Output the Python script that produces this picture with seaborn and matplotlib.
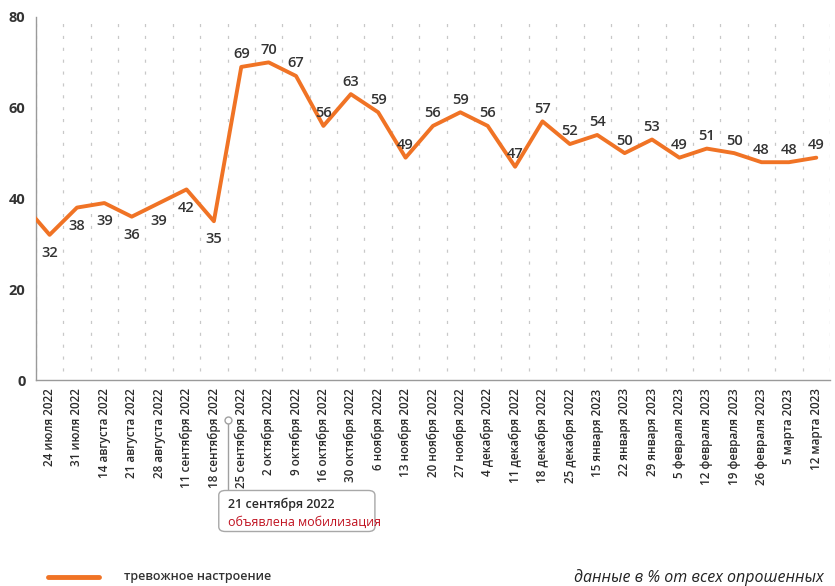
import numpy as np
import pandas as pd
import matplotlib
matplotlib.use('Agg')
import matplotlib.pyplot as plt
import matplotlib.transforms as mtransforms
from matplotlib.patches import FancyBboxPatch
import seaborn as sns

dates = ['24 июля 2022', '31 июля 2022', '14 августа 2022', '21 августа 2022', '28 августа 2022',
         '11 сентября 2022', '18 сентября 2022', '25 сентября 2022', '2 октября 2022', '9 октября 2022',
         '16 октября 2022', '30 октября 2022', '6 ноября 2022', '13 ноября 2022', '20 ноября 2022',
         '27 ноября 2022', '4 декабря 2022', '11 декабря 2022', '18 декабря 2022', '25 декабря 2022',
         '15 января 2023', '22 января 2023', '29 января 2023', '5 февраля 2023', '12 февраля 2023',
         '19 февраля 2023', '26 февраля 2023', '5 марта 2023', '12 марта 2023']
values = [32, 38, 39, 36, 39, 42, 35, 69, 70, 67, 56, 63, 59, 49, 56, 59, 56, 47, 57, 52,
          54, 50, 53, 49, 51, 50, 48, 48, 49]
# previous (off-chart) week, only the tail of the line is visible
lead_value = 39
mobilization_after = '18 сентября 2022'

orange = '#F07325'

df = pd.DataFrame({'pos': np.arange(-1, len(dates)), 'value': [lead_value] + values})

sns.set_style('white')
plt.rcParams['font.family'] = ['Open Sans', 'DejaVu Sans']

fig = plt.figure(figsize=(8.35, 5.86), dpi=100)
ax = fig.add_axes([0.043, 0.3515, 0.951, 0.6195])

# dashed vertical grid between categories
for b in np.arange(-0.5, len(dates), 1.0):
    ax.plot([b, b], [2, 80], color='#c8c8c8', lw=0.9, ls=(0, (2.5, 7)), zorder=0)

sns.lineplot(data=df, x='pos', y='value', color=orange, lw=2.8, ax=ax, zorder=3)

mob_idx = dates.index(mobilization_after)
for i, v in enumerate(values):
    if i <= mob_idx:
        ax.annotate(str(v), (i, v), xytext=(0, -8), textcoords='offset points',
                    ha='center', va='top', fontsize=10.5, fontweight='semibold', color='#333333')
    else:
        ax.annotate(str(v), (i, v), xytext=(0, 4), textcoords='offset points',
                    ha='center', va='bottom', fontsize=10.5, fontweight='semibold', color='#333333')

ax.set_xlim(-0.435, len(dates) - 1 + 0.36)
ax.set_ylim(0, 80)
ax.set_yticks([0, 20, 40, 60, 80])
ax.set_xticks(range(len(dates)))
ax.set_xticklabels(dates, rotation=90, fontsize=8.4, fontweight='semibold', color='#2a2a2a')
ax.set_xticks(np.arange(-0.5, len(dates), 1.0), minor=True)
ax.tick_params(axis='x', which='major', length=0, pad=6)
ax.tick_params(axis='x', which='minor', length=3, color='#999999', width=0.8)
ax.tick_params(axis='y', length=4, color='#999999', width=0.8, labelsize=10.5, labelcolor='#333333')
for lab in ax.get_yticklabels():
    lab.set_fontweight('bold')
ax.set_xlabel('')
ax.set_ylabel('')
for s in ['top', 'right']:
    ax.spines[s].set_visible(False)
for s in ['left', 'bottom']:
    ax.spines[s].set_color('#9a9a9a')
    ax.spines[s].set_linewidth(1.0)

# mobilization callout
trans = mtransforms.blended_transform_factory(ax.transData, fig.transFigure)
xm = mob_idx + 0.5
ax.plot([xm, xm], [0.283, 0.164], transform=trans, color='#a0a0a0', lw=1.0, clip_on=False)
ax.plot([xm], [0.283], transform=trans, marker='o', ms=5, mfc='white', mec='#a0a0a0',
        mew=1.0, clip_on=False)
box = FancyBboxPatch((0.262, 0.093), 0.187, 0.070, boxstyle='round,pad=0,rounding_size=0.008',
                     transform=fig.transFigure, fc='white', ec='#a8a8a8', lw=1.0)
fig.patches.append(box)
fig.text(0.273, 0.139, '21 сентября 2022', fontsize=9, fontweight='semibold', color='#2a2a2a',
         va='center')
fig.text(0.273, 0.109, 'объявлена мобилизация', fontsize=9, color='#c0101e', va='center')

# legend
fig.add_artist(plt.Line2D([0.058, 0.118], [0.016, 0.016], color=orange, lw=3.5))
fig.text(0.148, 0.016, 'тревожное настроение', fontsize=9, fontweight='semibold',
         color='#333333', va='center')
fig.text(0.687, 0.014, 'данные в % от всех опрошенных', fontsize=11.5, style='italic',
         color='#222222', va='center')

fig.savefig('out.png', dpi=100)
